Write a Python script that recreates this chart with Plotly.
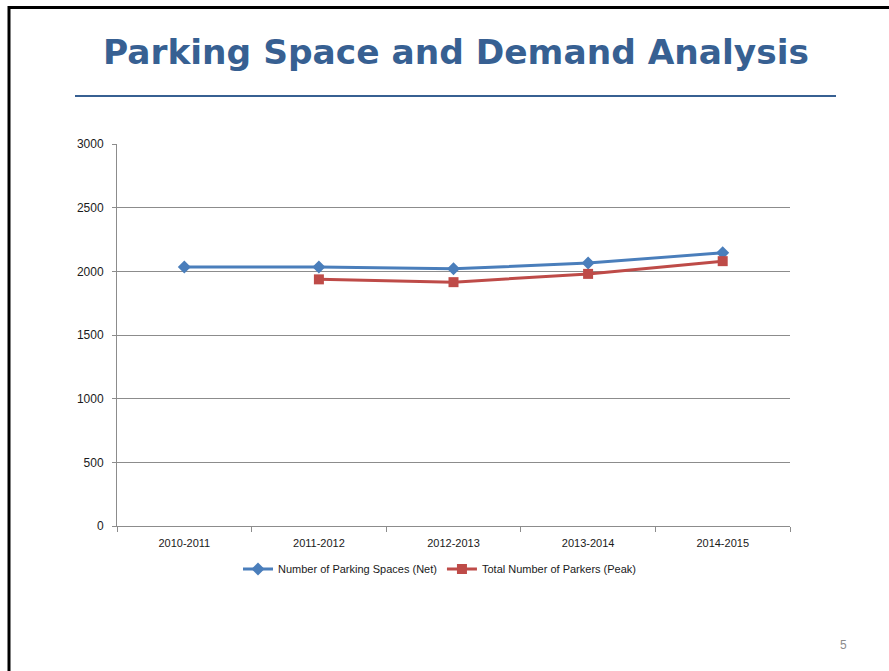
import plotly.graph_objects as go

# Academic years on the category axis
years = ["2010-2011", "2011-2012", "2012-2013", "2013-2014", "2014-2015"]

# Net parking spaces available each year
parking_spaces = [2035, 2035, 2020, 2065, 2145]

# Peak number of parkers (not counted for the first year)
parkers_peak = [None, 1937, 1915, 1980, 2080]

y_ticks = [0, 500, 1000, 1500, 2000, 2500, 3000]

W, H = 889, 671
L, R, T, B = 117, 99, 144, 145
PW, PH = W - L - R, H - T - B


def px(x):
    return (x - L) / PW


def py(y):
    return (H - B - y) / PH


BLUE = "#4A7EBB"
RED = "#BE4B48"
TITLE = "#376092"
GRID = "#8C8C8C"

fig = go.Figure()
fig.add_trace(go.Scatter(
    x=years, y=parking_spaces, mode="lines+markers",
    name="Number of Parking Spaces (Net)",
    line=dict(color=BLUE, width=3),
    marker=dict(symbol="diamond", size=10, color=BLUE),
))
fig.add_trace(go.Scatter(
    x=years, y=parkers_peak, mode="lines+markers",
    name="Total Number of Parkers (Peak)",
    line=dict(color=RED, width=3),
    marker=dict(symbol="square", size=10, color=RED),
))

shapes = [
    # slide frame (top and left edges)
    dict(type="line", xref="paper", yref="paper", x0=px(8), x1=px(889), y0=py(7.5), y1=py(7.5),
         line=dict(color="black", width=3)),
    dict(type="line", xref="paper", yref="paper", x0=px(9), x1=px(9), y0=py(6), y1=py(671),
         line=dict(color="black", width=3)),
    # rule below the slide heading
    dict(type="line", xref="paper", yref="paper", x0=px(75), x1=px(836), y0=py(96), y1=py(96),
         line=dict(color=TITLE, width=2)),
]

annotations = [
    dict(text="<b>Parking Space and Demand Analysis</b>", xref="paper", yref="paper",
         x=px(456), y=py(52), xanchor="center", yanchor="middle", showarrow=False,
         font=dict(family="DejaVu Sans", size=34.4, color=TITLE)),
    dict(text="5", xref="paper", yref="paper", x=px(843), y=py(645),
         xanchor="center", yanchor="middle", showarrow=False,
         font=dict(family="Liberation Sans", size=12, color="#8C8C8C")),
]

fig.update_layout(
    width=W, height=H,
    margin=dict(l=L, r=R, t=T, b=B),
    paper_bgcolor="white", plot_bgcolor="white",
    font=dict(family="Liberation Sans", size=11, color="#1A1A1A"),
    showlegend=True,
    legend=dict(orientation="h", x=px(440), xanchor="center", y=py(569), yanchor="middle",
                font=dict(size=11, color="#1A1A1A"), itemwidth=30, traceorder="normal"),
    shapes=shapes,
    annotations=annotations,
    xaxis=dict(
        type="category", range=[-0.5, 4.5], showgrid=False,
        showline=True, linecolor=GRID, linewidth=1,
        ticks="outside", tickson="boundaries", ticklen=5, tickcolor=GRID,
        tickfont=dict(size=11), ticklabelstandoff=7,
    ),
    yaxis=dict(
        range=[0, 3000], tickvals=y_ticks, showgrid=True, gridcolor=GRID, gridwidth=1,
        showline=True, linecolor=GRID, linewidth=1, zeroline=False,
        ticks="outside", ticklen=4, tickcolor=GRID, tickfont=dict(size=12),
        ticklabelstandoff=6,
    ),
)

fig.write_html("out.html")
